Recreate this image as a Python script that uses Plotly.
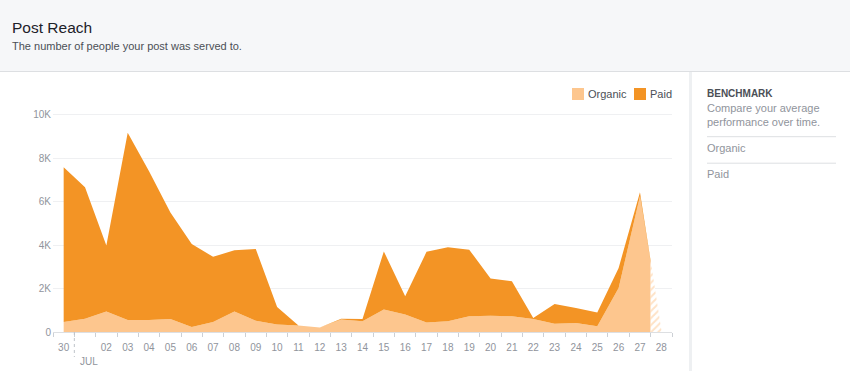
import plotly.graph_objects as go

# ---------------- data ----------------
day_labels = ["30", "01", "02", "03", "04", "05", "06", "07", "08", "09", "10",
              "11", "12", "13", "14", "15", "16", "17", "18", "19", "20",
              "21", "22", "23", "24", "25", "26", "27", "28"]
month_label = "JUL"
organic = [460, 610, 940, 550, 550, 600, 230, 460, 940, 520, 340,
           300, 210, 570, 490, 1030, 800, 440, 490, 720, 750,
           720, 600, 380, 410, 260, 2030, 6250, 100]
paid = [7120, 6050, 3040, 8620, 6850, 4900, 3820, 3000, 2820, 3300, 810,
        0, 0, 40, 110, 2680, 840, 3250, 3410, 3070, 1710,
        1610, 50, 910, 690, 640, 920, 180, 0]
series_names = ["Organic", "Paid"]
y_tick_vals = [0, 2000, 4000, 6000, 8000, 10000]
y_tick_text = ["0", "2K", "4K", "6K", "8K", "10K"]
panel_title = "BENCHMARK"
panel_desc = ["Compare your average", "performance over time."]
chart_title = "Post Reach"
chart_subtitle = "The number of people your post was served to."

# ---------------- style ----------------
C_ORG = "#FDC68E"
C_PAID = "#F39425"
FONT = "Liberation Sans, Arial, Helvetica, sans-serif"
GRAY = "#90949c"
DARK = "#4b4f56"

W, H = 850, 371
L, R, T, B = 53, 672, 110, 332


def px_x(p):
    return (p - L) / (R - L)


def px_y(p):
    return (B - p) / (B - T)


n = len(day_labels)
idx = list(range(n))
total = [o + p for o, p in zip(organic, paid)]

# last day is incomplete: solid up to the middle of the last interval, hatched after
split = n - 1.5
mid_org = (organic[-2] + organic[-1]) / 2
mid_paid = (paid[-2] + paid[-1]) / 2
mid_total = (total[-2] + total[-1]) / 2

fig = go.Figure()
fig.add_trace(go.Scatter(
    x=idx[:-1] + [split], y=organic[:-1] + [mid_org], name=series_names[0],
    stackgroup="one", mode="none", fillcolor=C_ORG, hoverinfo="skip"))
fig.add_trace(go.Scatter(
    x=idx[:-1] + [split], y=paid[:-1] + [mid_paid], name=series_names[1],
    stackgroup="one", mode="none", fillcolor=C_PAID, hoverinfo="skip"))
fig.add_trace(go.Scatter(
    x=[split, idx[-1]], y=[mid_total, total[-1]], mode="none", fill="tozeroy",
    fillcolor="rgba(0,0,0,0)",
    fillpattern=dict(shape="/", fgcolor=C_ORG, bgcolor="white", size=5, solidity=0.4),
    hoverinfo="skip", showlegend=False))

# tick labels: month start replaced by a marker
tick_text = []
month_pos = None
for i, lab in enumerate(day_labels):
    if lab == "01" and i > 0:
        tick_text.append("")
        month_pos = i - 0.5
    else:
        tick_text.append(lab)

shapes = []
annotations = []

# header band
shapes.append(dict(type="rect", xref="paper", yref="paper", x0=px_x(0), x1=px_x(W),
                   y0=px_y(71), y1=px_y(0), fillcolor="#f6f7f9", line=dict(width=0), layer="below"))
shapes.append(dict(type="line", xref="paper", yref="paper", x0=px_x(0), x1=px_x(W),
                   y0=px_y(71.5), y1=px_y(71.5), line=dict(color="#dddfe2", width=1)))
annotations.append(dict(text=chart_title, xref="paper", yref="paper", x=px_x(10), y=px_y(27),
                        xanchor="left", yanchor="middle", showarrow=False,
                        font=dict(family=FONT, size=15.5, color="#1d2129")))
annotations.append(dict(text=chart_subtitle, xref="paper", yref="paper", x=px_x(10), y=px_y(45.5),
                        xanchor="left", yanchor="middle", showarrow=False,
                        font=dict(family=FONT, size=11, color=DARK)))

# right panel
shapes.append(dict(type="rect", xref="paper", yref="paper", x0=px_x(689), x1=px_x(692),
                   y0=px_y(H), y1=px_y(72), fillcolor="#eef0f2", line=dict(width=0)))
annotations.append(dict(text="<b>%s</b>" % panel_title, xref="paper", yref="paper",
                        x=px_x(705), y=px_y(93.5), xanchor="left", yanchor="middle", showarrow=False,
                        font=dict(family=FONT, size=10, color=DARK)))
for k, line in enumerate(panel_desc):
    annotations.append(dict(text=line, xref="paper", yref="paper",
                            x=px_x(705), y=px_y(108 + 13.5 * k), xanchor="left", yanchor="middle",
                            showarrow=False, font=dict(family=FONT, size=11, color=GRAY)))
for k, name in enumerate(series_names):
    ly = 136.7 + 26.5 * k
    shapes.append(dict(type="line", xref="paper", yref="paper", x0=px_x(707), x1=px_x(836),
                       y0=px_y(ly), y1=px_y(ly), line=dict(color="#dddfe2", width=1)))
    annotations.append(dict(text=name, xref="paper", yref="paper",
                            x=px_x(705), y=px_y(ly + 11), xanchor="left", yanchor="middle",
                            showarrow=False, font=dict(family=FONT, size=11, color=GRAY)))

# custom legend
legend_x = [572, 634]
for name, col, lx in zip(series_names, [C_ORG, C_PAID], legend_x):
    shapes.append(dict(type="rect", xref="paper", yref="paper", x0=px_x(lx), x1=px_x(lx + 12),
                       y0=px_y(100), y1=px_y(88), fillcolor=col, line=dict(width=0)))
    annotations.append(dict(text=name, xref="paper", yref="paper", x=px_x(lx + 14), y=px_y(94.5),
                            xanchor="left", yanchor="middle", showarrow=False,
                            font=dict(family=FONT, size=11, color=DARK)))

# month marker
if month_pos is not None:
    shapes.append(dict(type="line", xref="x", yref="paper", x0=month_pos, x1=month_pos,
                       y0=0, y1=px_y(357), line=dict(color="#bec3c9", width=1, dash="dot")))
    annotations.append(dict(text=month_label, xref="x", yref="paper", x=month_pos, xshift=4,
                            y=px_y(361.5), xanchor="left", yanchor="middle", showarrow=False,
                            font=dict(family=FONT, size=10, color=GRAY)))

fig.update_layout(
    width=W, height=H,
    margin=dict(l=L, r=W - R, t=T, b=H - B, pad=0),
    paper_bgcolor="white", plot_bgcolor="white",
    showlegend=False,
    shapes=shapes, annotations=annotations,
    font=dict(family=FONT, color=GRAY),
    xaxis=dict(range=[-0.5, n - 0.5], tickmode="array", tickvals=idx, ticktext=tick_text,
               ticks="", showgrid=False, zeroline=False, showline=True, linecolor="#dddfe2",
               linewidth=1, tickfont=dict(family=FONT, size=10, color=GRAY),
               ticklabelstandoff=6,
               minor=dict(tickmode="array", tickvals=[i - 0.5 for i in range(n + 1)],
                          ticks="outside", ticklen=4, tickcolor="#ccd0d5", tickwidth=1,
                          showgrid=False),
               fixedrange=True),
    yaxis=dict(range=[0, 10000 * (B - T) / 217.3], tickmode="array", tickvals=y_tick_vals,
               ticktext=y_tick_text, showgrid=True, gridcolor="#eff0f2", gridwidth=1,
               zeroline=False, showline=False, ticks="",
               tickfont=dict(family=FONT, size=10, color=GRAY), ticklabelstandoff=1,
               fixedrange=True),
)

fig.write_html("out.html", config={"displayModeBar": False},
               post_script="document.body.style.margin='0';document.body.style.overflow='hidden';")
